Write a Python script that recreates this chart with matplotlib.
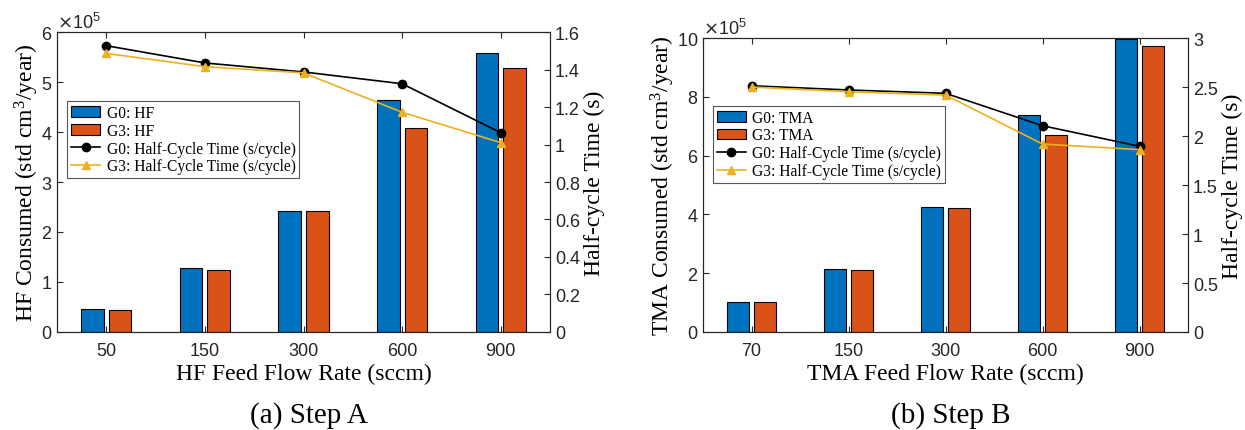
import numpy as np
import matplotlib
matplotlib.use("Agg")
import matplotlib.pyplot as plt

plt.rcParams["font.family"] = ["Liberation Sans", "DejaVu Sans"]
plt.rcParams["axes.edgecolor"] = "#262626"
plt.rcParams["xtick.color"] = "#262626"
plt.rcParams["ytick.color"] = "#262626"

SERIF = ["Liberation Serif", "DejaVu Serif"]
BLUE = "#0072BD"
ORANGE = "#D95319"
YELLOW = "#EDB120"

# Step A (HF)
hf_flow = ["50", "150", "300", "600", "900"]
hf_g0 = [0.46e5, 1.27e5, 2.43e5, 4.65e5, 5.59e5]
hf_g3 = [0.44e5, 1.24e5, 2.42e5, 4.09e5, 5.29e5]
hf_t_g0 = [1.527, 1.435, 1.387, 1.324, 1.063]
hf_t_g3 = [1.486, 1.415, 1.382, 1.172, 1.010]

# Step B (TMA)
tma_flow = ["70", "150", "300", "600", "900"]
tma_g0 = [1.01e5, 2.15e5, 4.24e5, 7.39e5, 9.97e5]
tma_g3 = [1.01e5, 2.12e5, 4.21e5, 6.71e5, 9.74e5]
tma_t_g0 = [2.513, 2.470, 2.436, 2.105, 1.895]
tma_t_g3 = [2.500, 2.452, 2.418, 1.918, 1.861]


def panel(rect, flow, g0, g3, t0, t3, gas, ymax, yticks, tmax, tticks, tlabels, caption):
    ax = fig.add_axes(rect)
    x = np.arange(1, len(flow) + 1)
    w = 0.23
    b0 = ax.bar(x - 0.14, g0, w, color=BLUE, edgecolor="black", linewidth=0.8,
                label=f"G0: {gas}")
    b1 = ax.bar(x + 0.14, g3, w, color=ORANGE, edgecolor="black", linewidth=0.8,
                label=f"G3: {gas}")
    ax.set_xlim(0.5, 5.5)
    ax.set_ylim(0, ymax)
    ax.set_yticks(yticks)
    ax.set_xticks(x)
    ax.set_xticklabels(flow)
    # fixed x10^5 multiplier like the original
    ax.ticklabel_format(style="sci", axis="y", scilimits=(5, 5), useMathText=True)
    ax.yaxis.get_offset_text().set_fontsize(13)
    ax.tick_params(direction="in", top=True, right=False, labelsize=13, length=4)
    ax.tick_params(axis="x", pad=7)
    ax.set_xlabel(f"{gas} Feed Flow Rate (sccm)", family=SERIF, fontsize=17, labelpad=3)
    ax.set_ylabel(f"{gas} Consumed (std cm$\\mathregular{{^3}}$/year)", family=SERIF,
                  fontsize=17, labelpad=0)

    ax2 = ax.twinx()
    l0, = ax2.plot(x, t0, color="black", marker="o", markersize=6, linewidth=1.2,
                   label="G0: Half-Cycle Time (s/cycle)")
    l1, = ax2.plot(x, t3, color=YELLOW, marker="^", markersize=6, linewidth=1.2,
                   label="G3: Half-Cycle Time (s/cycle)")
    ax2.set_ylim(0, tmax)
    ax2.set_yticks(tticks)
    ax2.set_yticklabels(tlabels)
    ax2.tick_params(direction="in", labelsize=13, length=4)
    ax2.set_ylabel("Half-cycle Time (s)", family=SERIF, fontsize=17, labelpad=3)

    leg = ax2.legend(handles=[b0, b1, l0, l1], loc="upper left",
                     bbox_to_anchor=(0.02, 0.77), borderaxespad=0,
                     prop={"family": SERIF, "size": 11.2}, fancybox=False,
                     framealpha=1, edgecolor="#555555", handlelength=1.9,
                     labelspacing=0.12, borderpad=0.25, handletextpad=0.4)
    leg.get_frame().set_linewidth(0.8)

    cx = rect[0] + rect[2] / 2
    fig.text(cx + 0.004, 0.036, caption, family=SERIF, fontsize=21, ha="center", va="center")


fig = plt.figure(figsize=(12.45, 4.31), dpi=100)

panel([0.0458, 0.2274, 0.396, 0.696], hf_flow, hf_g0, hf_g3, hf_t_g0, hf_t_g3, "HF",
      6e5, np.arange(0, 7e5, 1e5), 1.6, np.arange(0, 1.61, 0.2),
      ["0", "0.2", "0.4", "0.6", "0.8", "1", "1.2", "1.4", "1.6"], "(a) Step A")
panel([0.5647, 0.2274, 0.3896, 0.682], tma_flow, tma_g0, tma_g3, tma_t_g0, tma_t_g3, "TMA",
      10e5, np.arange(0, 11e5, 2e5), 3, np.arange(0, 3.01, 0.5),
      ["0", "0.5", "1", "1.5", "2", "2.5", "3"], "(b) Step B")

fig.savefig("out.png", dpi=100)
